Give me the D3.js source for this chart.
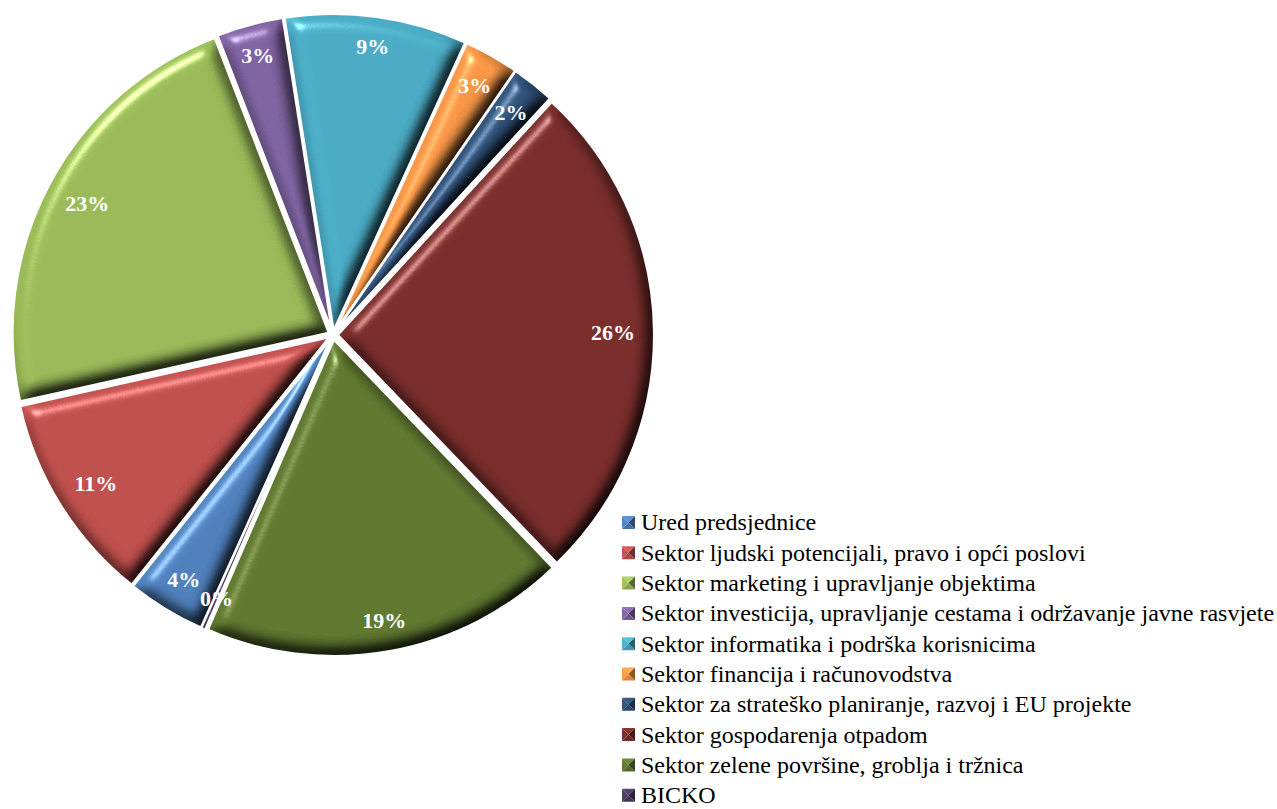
<!DOCTYPE html>
<html><head><meta charset="utf-8">
<script src="https://cdn.jsdelivr.net/npm/d3@7"></script>
<style>
html,body{margin:0;padding:0;background:#fff;}
svg{display:block;}
</style></head><body>
<svg id="chart" width="1277" height="809"></svg>
<script>
// ---- data ----
const categories = [
  "Ured predsjednice",
  "Sektor ljudski potencijali, pravo i opći poslovi",
  "Sektor marketing i upravljanje objektima",
  "Sektor investicija, upravljanje cestama i održavanje javne rasvjete",
  "Sektor informatika i podrška korisnicima",
  "Sektor financija i računovodstva",
  "Sektor za strateško planiranje, razvoj i EU projekte",
  "Sektor gospodarenja otpadom",
  "Sektor zelene površine, groblja i tržnica",
  "BICKO"
];
const values = [4.0, 10.8, 22.6, 3.4, 9.3, 2.8, 2.2, 26.0, 18.7, 0.2];
const colors = ["#4F81BD","#C0504D","#9BBB59","#8064A2","#4BACC6","#F79646","#2F5078","#7A2E2C","#607830","#4D3B62"];

// ---- layout ----
const W = 1277, H = 809;
const cx = 333, cy = 335, R = 316, explode = 5;
const startDeg = 204.2;
const serif = "'Liberation Serif','Times New Roman',Times,serif";

const svg = d3.select("#chart");
const defs = svg.append("defs");

// bevel filter
const f = defs.append("filter").attr("id","bevel")
  .attr("x","-10%").attr("y","-10%").attr("width","120%").attr("height","120%")
  .attr("color-interpolation-filters","sRGB");
f.append("feGaussianBlur").attr("in","SourceAlpha").attr("stdDeviation",8).attr("result","blur");
const diff = f.append("feDiffuseLighting").attr("in","blur").attr("surfaceScale",11)
  .attr("diffuseConstant",1.2).attr("lighting-color","#ffffff").attr("result","diff");
diff.append("feDistantLight").attr("azimuth",235).attr("elevation",56);
f.append("feComposite").attr("in","SourceGraphic").attr("in2","diff")
  .attr("operator","arithmetic").attr("k1",1).attr("k2",0).attr("k3",0).attr("k4",0).attr("result","shaded");
const spec = f.append("feSpecularLighting").attr("in","blur").attr("surfaceScale",11)
  .attr("specularConstant",0.45).attr("specularExponent",40).attr("lighting-color","#ffffff").attr("result","spec");
spec.append("feDistantLight").attr("azimuth",235).attr("elevation",35);
f.append("feComposite").attr("in","spec").attr("in2","SourceAlpha").attr("operator","in").attr("result","specIn");
f.append("feComposite").attr("in","shaded").attr("in2","specIn")
  .attr("operator","arithmetic").attr("k1",0).attr("k2",1).attr("k3",1).attr("k4",0).attr("result","lit");
f.append("feComposite").attr("in","lit").attr("in2","SourceAlpha").attr("operator","in");

const a0 = startDeg * Math.PI / 180;
const pie = d3.pie().sort(null).value(d => d).startAngle(a0).endAngle(a0 + 2*Math.PI);
const arcs = pie(values);
const arc = d3.arc().innerRadius(0).outerRadius(R);
const total = d3.sum(values);

const gPie = svg.append("g").attr("transform", `translate(${cx},${cy})`);
const slices = gPie.selectAll("g.slice").data(arcs).join("g")
  .attr("class","slice")
  .attr("transform", d => {
    const m = (d.startAngle + d.endAngle)/2;
    return `translate(${explode*Math.sin(m)},${-explode*Math.cos(m)})`;
  });
slices.append("path")
  .attr("d", arc)
  .attr("fill", (d,i) => colors[i])
  .attr("filter","url(#bevel)");
slices.append("path")
  .attr("d", arc)
  .attr("fill","none")
  .attr("stroke","#fff")
  .attr("stroke-width",2)
  .attr("stroke-linejoin","round");

// labels (inside end)
const gLab = gPie.append("g");
arcs.forEach((d,i) => {
  const m = (d.startAngle + d.endAngle)/2;
  const t = gLab.append("text")
    .attr("text-anchor","middle")
    .attr("dy","0.35em")
    .attr("font-family",serif)
    .attr("font-weight","bold")
    .attr("font-size",22)
    .attr("fill","#fff")
    .text(Math.round(d.value/total*100) + "%");
  const bb = t.node().getBBox();
  const hw = bb.width/2, hh = 8;
  const ext = Math.abs(Math.sin(m))*hw + Math.abs(Math.cos(m))*hh;
  const r = R + explode - 19 - ext;
  t.attr("x", r*Math.sin(m)).attr("y", -r*Math.cos(m));
});

// legend
const lgX = 622, lgY = 522.5, lgStep = 30.3, ms = 13;
const gLeg = svg.append("g").attr("transform", `translate(${lgX},${lgY})`);
const items = gLeg.selectAll("g.item").data(categories).join("g")
  .attr("class","item")
  .attr("transform",(d,i)=>`translate(0,${i*lgStep})`);
items.each(function(d,i){
  const g = d3.select(this);
  const c = d3.color(colors[i]);
  const h = ms/2, x0 = 0, y0 = -h;
  const C = [x0+h, y0+h];
  const tris = [
    {pts:[[x0,y0],[x0+ms,y0],C], col:c.brighter(0.35)},
    {pts:[[x0+ms,y0],[x0+ms,y0+ms],C], col:c.darker(1.6)},
    {pts:[[x0,y0+ms],[x0+ms,y0+ms],C], col:c.darker(0.35)},
    {pts:[[x0,y0],[x0,y0+ms],C], col:c.brighter(0.1)}
  ];
  tris.forEach(t => g.append("path")
    .attr("d", "M" + t.pts.map(p=>p.join(",")).join("L") + "Z")
    .attr("fill", t.col.formatHex()));
  g.append("text")
    .attr("x", 19).attr("dy","0.33em")
    .attr("font-family",serif)
    .attr("font-size",24)
    .attr("fill","#000")
    .text(d);
});
</script>
</body></html>
